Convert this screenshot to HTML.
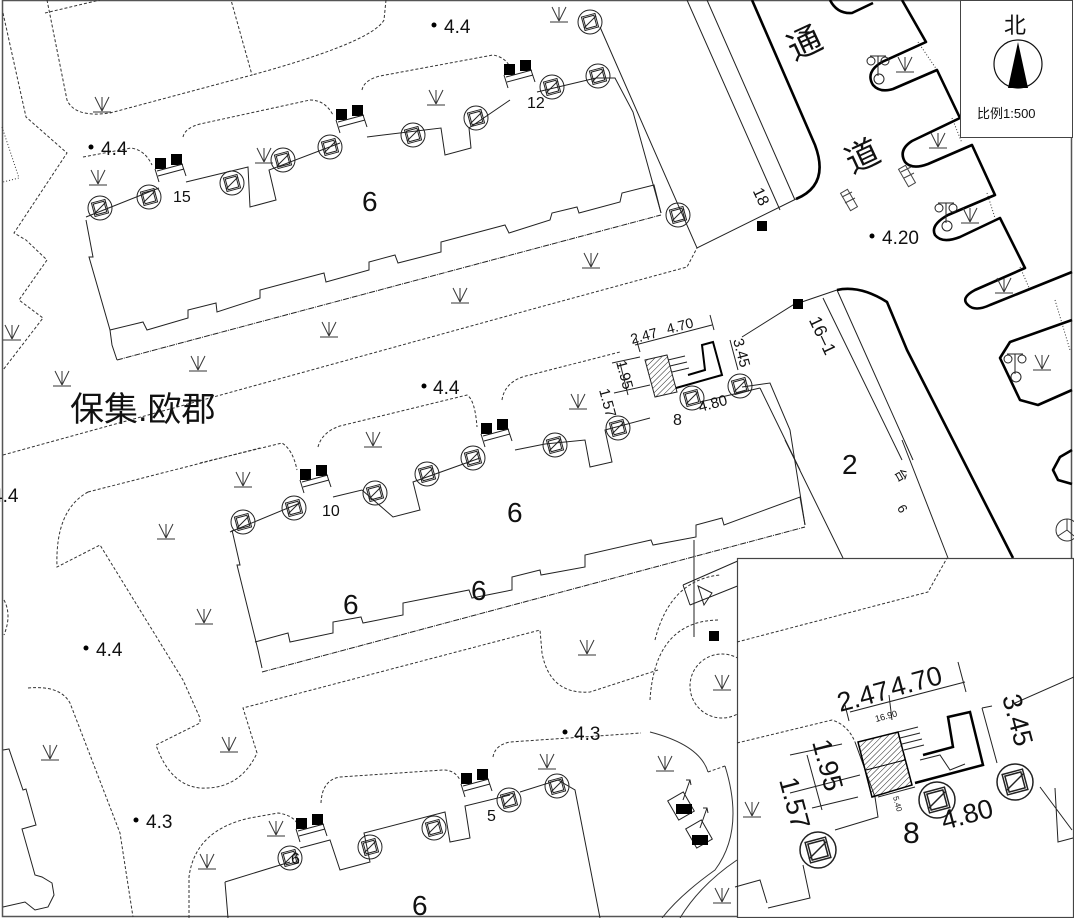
<!DOCTYPE html>
<html><head><meta charset="utf-8"><style>
html,body{margin:0;padding:0;background:#fff;}
svg{display:block;}
text{font-family:"Liberation Sans","Noto Sans CJK SC",sans-serif;fill:#111;}
</style></head><body>
<svg width="1074" height="918" viewBox="0 0 1074 918" xmlns="http://www.w3.org/2000/svg">
<defs>
<g id="tr"><circle r="12" fill="none" stroke="#222" stroke-width="1"/><rect x="-7" y="-7" width="14" height="14" fill="none" stroke="#222" transform="rotate(-15)"/><rect x="-5.5" y="-5.5" width="11" height="11" fill="none" stroke="#222" transform="rotate(-15)"/><line x1="-6" y1="6" x2="6" y2="-6" stroke="#222"/></g>
<g id="gr" stroke="#333" stroke-width="1" fill="none"><line x1="-9" y1="0" x2="9" y2="0"/><line x1="-7" y1="-15" x2="0" y2="-1"/><line x1="7" y1="-15" x2="0" y2="-1"/><line x1="0" y1="-15" x2="0" y2="-1"/></g>
<g id="en"><rect x="0" y="0" width="11" height="11" fill="#000"/><rect x="16" y="-4" width="11" height="11" fill="#000"/><path d="M2,13 L28,6 M3,18 L29,11 M0,11 L4,24 M27,6 L31,18" stroke="#222" fill="none"/></g>
<g id="lamp" stroke="#222" fill="none"><line x1="-8" y1="0" x2="8" y2="0"/><line x1="0" y1="0" x2="0" y2="20"/><circle cx="-7" cy="5" r="4"/><circle cx="7" cy="5" r="4"/><circle cx="1" cy="23" r="5"/></g>
<pattern id="hat" width="4" height="4" patternUnits="userSpaceOnUse" patternTransform="rotate(45)"><line x1="0" y1="0" x2="0" y2="4" stroke="#222" stroke-width="1"/></pattern>
</defs>
<rect x="0" y="0" width="1074" height="918" fill="#fff"/>
<rect x="2.5" y="0.5" width="1069" height="916" fill="none" stroke="#555" stroke-width="1.5"/>

<g fill="none" stroke="#333" stroke-width="1" stroke-dasharray="3,2">
<path d="M47,0 L67,100 Q75,118 110,113 L252,75 L231,0"/>
<path d="M386,0 L384,20 Q372,42 252,75"/>
<path d="M45,13 L100,0"/>
<path d="M3,13 L26,117 L67,153 L14,233 L26,240 L47,260 L19,300 L43,318 L3,370"/>
<path d="M83,157 L131,148 Q145,150 152,165"/>
<path d="M183,137 Q185,128 200,124 L310,100 Q325,100 333,115"/>
<path d="M362,90 Q364,80 380,76 L493,55 Q505,57 510,67"/>
<path d="M3,455 L540,307 L687,267 L697,248"/>
<path d="M88,492 Q55,510 57,567 L100,545 L183,680 L200,718 L200,723 L156,745 Q170,785 200,788 Q240,790 257,753 L243,708 L540,630 L542,653 Q550,695 590,692 L658,670"/>
<path d="M88,492 L260,448"/>
<path d="M200,463 L282,443 Q293,450 297,470"/>
<path d="M318,447 Q322,432 340,426 L467,395 Q475,400 477,427"/>
<path d="M502,400 Q505,380 530,375 L620,352"/>
<path d="M28,688 Q60,685 70,703 L120,833 L133,917"/>
<path d="M4,600 Q12,615 4,635"/>
<path d="M189,918 L189,877 Q195,830 250,818 L278,813 Q292,815 297,823"/>
<path d="M321,803 Q322,780 340,777 L443,770 Q455,770 460,780"/>
<path d="M493,757 Q495,745 510,742 L641,733"/>
<path d="M708,772 L725,766"/>
<path d="M655,640 Q670,580 720,575 M650,700 Q655,620 720,620"/>
<circle cx="722" cy="686" r="32"/>
</g>
<g fill="none" stroke="#333" stroke-width="1" stroke-dasharray="1,2"><path d="M2,127 L19,178 L3,182"/><path d="M918,42 L937,70"/><path d="M952,118 L962,143"/><path d="M987,193 L995,218"/><path d="M1020,267 L1030,290"/><path d="M1055,300 L1070,350"/></g>
<path d="M650,732 Q700,745 708,772 M725,766 Q745,830 715,870 Q680,895 662,918 M680,918 Q700,885 737,860" fill="none" stroke="#333"/>
<path d="M3,750 L9,749 L23,790 L26,789 L36,825 L22,829 L35,875 L42,877 L52,883 L54,895 L48,907 L35,910 L25,902 L3,907" fill="none" stroke="#222"/>

<g fill="none" stroke="#222" stroke-width="1">
<path d="M86,220 L93,257 L89,257 L110,330 L112,345 L117,360"/>
<path d="M110,330 L143,322 L147,330 L188,318 L188,310 L216,303 L217,312 L260,298 L260,290 L324,273 L326,282 L369,270 L369,262 L395,255 L398,263 L441,252 L441,242 L505,225 L509,233 L550,220 L552,213 L577,207 L579,213 L620,202 L622,193 L654,185 L661,213"/>
<path d="M117,360 L661,215" stroke-dasharray="6,1,1,1"/>
<path d="M86,217 L159,188 M186,182 L248,167 L250,207 L276,200 L269,170 L340,143 M367,137 L441,128 L445,155 L471,148 L469,128 L510,100 M537,92 L596,78 L615,78 L633,112 L661,213"/>
<path d="M600,27 L697,248 L796,199 M687,0 L780,210 M707,0 L795,200"/>
<path d="M262,668 L258,650 L237,565 L240,565 L232,530"/>
<path d="M255,642 L288,633 L290,642 L333,633 L333,622 L361,617 L363,623 L403,615 L403,603 L469,590 L472,598 L512,590 L512,577 L540,570 L541,575 L585,567 L585,555 L651,540 L653,545 L696,537 L696,525 L722,518 L724,525 L800,497 L805,525"/>
<path d="M262,672 L805,527" stroke-dasharray="6,1,1,1"/>
<path d="M230,532 L300,503 M333,497 L362,490 L393,517 L420,510 L413,482 L480,458 M515,450 L545,444 L585,440 L590,467 L612,462 L605,430 L650,418 M742,387 L770,383 L790,430 L805,525"/>
<path d="M742,337 L793,305 L837,290 M823,298 L902,460 M837,290 L913,460 M785,440 L843,558 M902,440 L948,558 M760,388 L800,470"/>
<path d="M694,540 L694,637 M683,585 L740,560 M690,605 L740,585 M683,585 L690,605 M698,586 L712,593 L704,605 Z"/>
<path d="M225,882 L228,918 M225,882 L290,862 M300,848 L330,840 L340,870 L370,862 L364,833 L445,812 L450,842 L470,838 L465,806 L510,795 M520,792 L558,780 L575,790 L600,918 M225,882 L228,918"/>
</g>

<g fill="none" stroke="#000" stroke-width="2.6" stroke-linejoin="round">
<path d="M752,0 L815,145 Q830,185 796,199"/>
<path d="M830,0 Q837,14 852,13 L873,3"/>
<path d="M902,0 L926,42 L882,62 Q865,72 873,85 Q880,93 893,89 L937,70 L960,118 L912,141 Q898,150 905,162 Q912,170 928,164 L972,145 L995,195 L948,215 Q930,225 935,235 Q942,244 960,237 L1000,218 L1025,268 L975,290 Q960,298 968,305 Q975,312 990,305 L1072,272"/>
<path d="M1072,320 L1010,342 L1000,358 L1020,400 L1038,405 L1072,390"/>
<path d="M1072,450 L1060,457 L1053,470 L1058,480 L1072,484"/>
<path d="M837,290 Q860,285 887,302 L907,350 L1013,558"/>
</g>
<circle cx="1067" cy="530" r="11" fill="none" stroke="#333"/><path d="M1067,530 L1067,519 M1067,530 L1058,536 M1067,530 L1074,536" stroke="#333"/>
<g stroke="#444" fill="none"><rect x="845" y="190" width="8" height="20" transform="rotate(-30 849 200)"/><path d="M842,197 L852,192 M845,203 L855,198"/><rect x="903" y="166" width="8" height="20" transform="rotate(-30 907 176)"/><path d="M901,172 L911,167 M904,178 L914,173"/></g>
<use href="#lamp" x="878" y="56"/><use href="#lamp" x="946" y="203"/><use href="#lamp" x="1015" y="354"/>
<rect x="757" y="221" width="10" height="10" fill="#000"/><rect x="793" y="299" width="10" height="10" fill="#000"/><rect x="709" y="631" width="10" height="10" fill="#000"/>
<g stroke="#222" fill="none"><rect x="672" y="795" width="18" height="22" transform="rotate(-30 681 806)"/><rect x="690" y="823" width="18" height="22" transform="rotate(-30 699 834)"/><path d="M683,800 L690,780 M686,780 L690,780 L691,785 M700,828 L707,808 M703,808 L707,808 L708,813"/></g>
<rect x="676" y="804" width="16" height="10" fill="#000"/><rect x="692" y="835" width="16" height="10" fill="#000"/>

<use href="#en" x="155" y="158"/><use href="#en" x="336" y="109"/><use href="#en" x="504" y="64"/>
<use href="#en" x="300" y="469"/><use href="#en" x="481" y="423"/>
<use href="#en" x="296" y="818"/><use href="#en" x="461" y="773"/>

<g>
<use href="#tr" x="100" y="208"/><use href="#tr" x="149" y="197"/><use href="#tr" x="232" y="183"/><use href="#tr" x="283" y="160"/><use href="#tr" x="330" y="147"/><use href="#tr" x="413" y="135"/><use href="#tr" x="476" y="118"/><use href="#tr" x="552" y="87"/><use href="#tr" x="598" y="76"/><use href="#tr" x="590" y="22"/><use href="#tr" x="678" y="215"/>
<use href="#tr" x="243" y="522"/><use href="#tr" x="294" y="508"/><use href="#tr" x="375" y="493"/><use href="#tr" x="427" y="474"/><use href="#tr" x="473" y="458"/><use href="#tr" x="555" y="445"/><use href="#tr" x="618" y="428"/><use href="#tr" x="692" y="398"/><use href="#tr" x="740" y="386"/>
<use href="#tr" x="290" y="858"/><use href="#tr" x="370" y="847"/><use href="#tr" x="434" y="828"/><use href="#tr" x="509" y="800"/><use href="#tr" x="557" y="786"/>
</g>

<g>
<use href="#gr" x="102" y="112"/><use href="#gr" x="98" y="185"/><use href="#gr" x="264" y="163"/><use href="#gr" x="436" y="105"/><use href="#gr" x="591" y="268"/><use href="#gr" x="460" y="303"/><use href="#gr" x="329" y="337"/><use href="#gr" x="198" y="371"/><use href="#gr" x="62" y="386"/><use href="#gr" x="12" y="340"/><use href="#gr" x="373" y="447"/><use href="#gr" x="578" y="409"/>
<use href="#gr" x="243" y="487"/><use href="#gr" x="166" y="539"/><use href="#gr" x="204" y="624"/><use href="#gr" x="229" y="752"/><use href="#gr" x="50" y="760"/><use href="#gr" x="587" y="655"/><use href="#gr" x="722" y="690"/><use href="#gr" x="547" y="769"/><use href="#gr" x="665" y="771"/><use href="#gr" x="276" y="836"/><use href="#gr" x="207" y="869"/><use href="#gr" x="722" y="903"/>
<use href="#gr" x="559" y="22"/><use href="#gr" x="905" y="72"/><use href="#gr" x="938" y="148"/><use href="#gr" x="970" y="223"/><use href="#gr" x="1004" y="293"/><use href="#gr" x="1042" y="370"/>
</g>

<g font-size="19">
<circle cx="434" cy="25" r="2.5" fill="#000"/><text x="444" y="33">4.4</text>
<circle cx="91" cy="147" r="2.5" fill="#000"/><text x="101" y="155">4.4</text>
<circle cx="424" cy="386" r="2.5" fill="#000"/><text x="433" y="394">4.4</text>
<text x="-8" y="502">4.4</text>
<circle cx="86" cy="648" r="2.5" fill="#000"/><text x="96" y="656">4.4</text>
<circle cx="565" cy="732" r="2.5" fill="#000"/><text x="574" y="740">4.3</text>
<circle cx="136" cy="820" r="2.5" fill="#000"/><text x="146" y="828">4.3</text>
<circle cx="872" cy="236" r="2.5" fill="#000"/><text x="882" y="244">4.20</text>
</g>
<g font-size="28">
<text x="362" y="211">6</text><text x="507" y="522">6</text><text x="343" y="614">6</text><text x="471" y="600">6</text><text x="412" y="915">6</text><text x="842" y="474">2</text>
</g>
<g font-size="16"><text x="173" y="202">15</text><text x="527" y="108">12</text><text x="322" y="516">10</text><text x="487" y="821">5</text><text x="291" y="864">6</text></g>
<text x="70" y="421" font-size="34">保集.欧郡</text>
<text x="787" y="55" font-size="34" transform="rotate(-25 804 42)">通</text>
<text x="845" y="168" font-size="34" transform="rotate(-25 862 155)">道</text>
<text x="753" y="200" font-size="16" transform="rotate(65 760 195)">18</text>
<text x="806" y="336" font-size="18" transform="rotate(65 820 330)">16–1</text>
<text x="896" y="481" font-size="13" transform="rotate(60 903 475)">台</text>
<text x="899" y="516" font-size="13" transform="rotate(60 905 510)">6</text>

<g stroke="#222" fill="none">
<path d="M635,345 L712,325 M710,315 L714,330 M636,338 L640,352"/>
<polygon points="645,360 667,355 677,392 655,397" fill="url(#hat)"/>
<path d="M688,375 L705,370 L702,345 L713,342 L722,375 L676,388" stroke-width="2" stroke="#000"/>
<path d="M668,360 L685,356 M670,366 L687,362 M672,372 L689,368 M730,340 L738,370 M612,363 L640,357 M614,393 L650,385 M620,363 L628,395 M760,388 L700,402"/>
</g>
<g font-size="15">
<text x="632" y="344" font-size="14" transform="rotate(-15 632 344)">2.47</text>
<text x="668" y="334" font-size="14" transform="rotate(-15 668 334)">4.70</text>
<text x="733" y="340" transform="rotate(75 733 340)">3.45</text>
<text x="616" y="362" transform="rotate(75 616 362)">1.95</text>
<text x="599" y="390" transform="rotate(75 599 390)">1.57</text>
<text x="700" y="412" transform="rotate(-15 700 412)">4.80</text>
<text x="673" y="425" font-size="16">8</text>
</g>

<rect x="960.5" y="0.5" width="112" height="137" fill="#fff" stroke="#444"/>
<text x="1004" y="33" font-size="22">北</text>
<circle cx="1018" cy="64" r="24" fill="none" stroke="#111" stroke-width="1.2"/>
<polygon points="1018,42 1008,88 1028,88" fill="#000"/>
<text x="977" y="118" font-size="13">比例1:500</text>

<rect x="737.5" y="558.5" width="336" height="359" fill="#fff" stroke="#444" stroke-width="1.2"/>
<g fill="none" stroke="#333" stroke-width="1" stroke-dasharray="3,2">
<path d="M737,642 L928,592 L947,558"/>
<path d="M737,743 L832,720 Q848,725 855,742"/>
</g>
<g fill="none" stroke="#222" stroke-width="1">
<path d="M850,712 L965,682 M845,705 L849,721 M958,662 L966,692 M889,695 L892,720"/>
<path d="M1015,703 L1074,677 M982,708 L997,763 M982,708 L992,706"/>
<path d="M790,755 L842,744 M790,793 L860,775 M812,808 L858,797 M807,755 L822,810"/>
<path d="M855,742 L875,797 L878,817 L835,830 M735,887 L760,880 L767,903 M803,865 L810,898 L768,908 M1055,788 L1058,842 L1073,838 M1040,787 L1072,830"/>
<path d="M898,732 L918,727 M900,738 L920,733 M902,744 L922,739 M904,750 L924,745 M878,797 L915,787"/>
<path d="M920,760 L940,755 L950,770 L965,764"/>
<polygon points="858,742 898,732 912,785 872,797" fill="url(#hat)" stroke="#000" stroke-width="1.5"/>
<line x1="866" y1="770" x2="905" y2="760" stroke="#000"/>
</g>
<path d="M923,755 L953,747 L948,717 L970,712 L983,765 L915,783" fill="none" stroke="#000" stroke-width="2.5"/>
<g transform="translate(937,800) scale(1.5)"><use href="#tr"/></g>
<g transform="translate(1015,782) scale(1.5)"><use href="#tr"/></g>
<g transform="translate(818,850) scale(1.5)"><use href="#tr"/></g>
<use href="#gr" x="752" y="817"/>
<g font-size="27">
<text x="840" y="712" transform="rotate(-15 840 712)">2.47</text>
<text x="893" y="697" transform="rotate(-15 893 697)">4.70</text>
<text x="1002" y="697" transform="rotate(75 1002 697)">3.45</text>
<text x="812" y="742" transform="rotate(75 812 742)">1.95</text>
<text x="779" y="780" transform="rotate(75 779 780)">1.57</text>
<text x="944" y="830" transform="rotate(-15 944 830)">4.80</text>
<text x="903" y="843" font-size="30">8</text>
</g>
<text x="876" y="722" font-size="9" transform="rotate(-15 876 722)">16.90</text>
<text x="893" y="797" font-size="8" transform="rotate(75 893 797)">5.40</text>
</svg>
</body></html>
